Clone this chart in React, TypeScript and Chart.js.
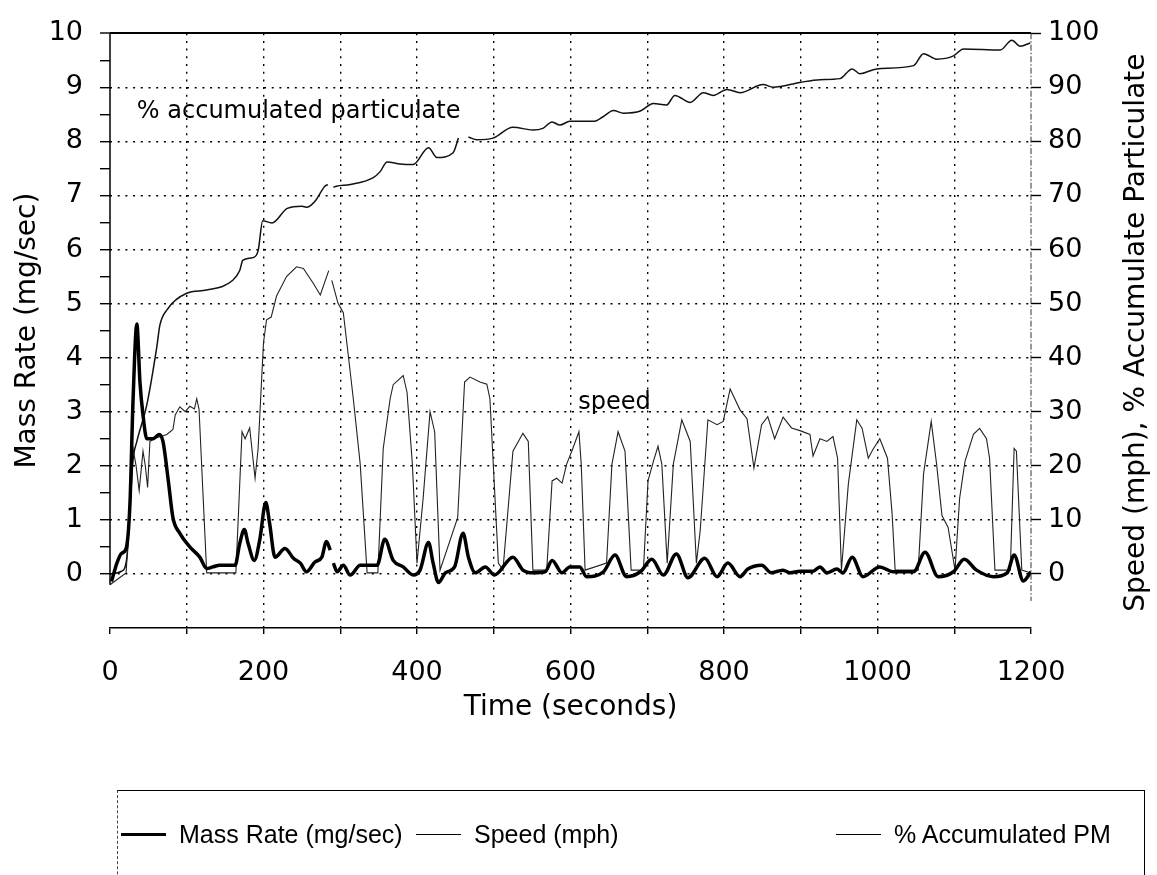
import React, { useEffect, useRef } from 'react';
import { Chart, registerables } from 'chart.js';

Chart.register(...registerables);

// ---- Data ----
const massTime = [2, 9, 15, 21, 26, 30, 35, 39, 43, 48, 56, 64, 69, 76, 82, 91, 104, 117, 126, 134, 143, 163, 169, 175, 180, 188, 195, 203, 208, 215, 228, 239, 248, 256, 267, 276, 282, 287, 289, 291, 296, 304, 313, 326, 348, 358, 369, 382, 395, 404, 415, 421, 428, 437, 449, 460, 467, 476, 489, 501, 525, 538, 551, 567, 576, 589, 599, 612, 621, 643, 658, 673, 691, 706, 721, 738, 753, 775, 791, 805, 821, 831, 849, 862, 870, 877, 886, 899, 916, 925, 934, 947, 955, 967, 981, 1003, 1020, 1047, 1062, 1079, 1099, 1113, 1129, 1151, 1169, 1178, 1190, 1200];
const massRate = [-0.14, 0.2, 0.38, 0.47, 1.3, 3.2, 4.62, 3.55, 2.94, 2.5, 2.5, 2.58, 2.45, 1.72, 1.04, 0.75, 0.5, 0.31, 0.1, 0.13, 0.16, 0.16, 0.56, 0.82, 0.56, 0.25, 0.62, 1.32, 0.93, 0.31, 0.47, 0.29, 0.2, 0.04, 0.22, 0.31, 0.6, 0.44, null, 0.2, 0.04, 0.16, -0.02, 0.16, 0.16, 0.64, 0.25, 0.13, -0.02, 0.07, 0.58, 0.2, -0.16, 0.02, 0.13, 0.75, 0.31, 0.02, 0.13, -0.02, 0.31, 0.07, 0.02, 0.04, 0.25, 0.02, 0.13, 0.13, -0.05, 0.04, 0.35, -0.05, 0.04, 0.27, -0.02, 0.37, -0.07, 0.29, -0.05, 0.2, -0.05, 0.09, 0.16, 0.02, 0.05, 0.07, 0.02, 0.05, 0.05, 0.13, 0.02, 0.09, 0.02, 0.31, -0.05, 0.13, 0.04, 0.04, 0.4, -0.05, 0.04, 0.27, 0.07, -0.05, 0.02, 0.35, -0.13, 0.04];

const speedTime = [0, 21, 26, 30, 34, 38, 43, 46, 49, 52, 57, 74, 82, 85, 91, 98, 104, 110, 113, 116, 121, 126, 164, 172, 176, 182, 189, 193, 200, 204, 210, 217, 230, 243, 252, 265, 274, 285, 287, 289, 297, 304, 310, 317, 326, 335, 349, 356, 365, 369, 382, 387, 394, 400, 408, 417, 423, 430, 453, 462, 469, 482, 491, 495, 506, 512, 525, 538, 545, 551, 569, 576, 582, 589, 595, 603, 611, 614, 619, 647, 654, 662, 671, 679, 695, 701, 708, 714, 719, 726, 734, 745, 756, 764, 769, 779, 791, 799, 808, 821, 830, 839, 849, 857, 866, 877, 888, 899, 912, 916, 925, 934, 942, 948, 953, 962, 973, 980, 988, 994, 1003, 1013, 1019, 1023, 1053, 1060, 1070, 1077, 1084, 1092, 1101, 1107, 1114, 1125, 1133, 1142, 1146, 1153, 1173, 1178, 1181, 1188, 1199];
const speedMph = [-2, 0.2, 12, 23.2, 20, 15.4, 22.7, 20, 16, 24.5, 25, 25.8, 26.7, 29.4, 30.9, 30, 31, 30.5, 32.4, 30.5, 15.3, 0.2, 0.2, 26.3, 25, 27, 17.7, 23.2, 42.8, 47, 47.5, 51.4, 55, 56.8, 56.5, 53.7, 51.6, 56.1, null, 54.3, 50.1, 48.3, 41, 32.4, 20.3, 0.2, 0.2, 23.2, 32.4, 35, 36.7, 33.6, 20.3, 2, 14, 30, 26.3, 0.7, 10.4, 35.5, 36.4, 35.5, 35.1, 32.4, 2, 0.7, 22.7, 26, 24.5, 0.7, 0.7, 17.2, 17.7, 16.8, 20.3, 23.2, 26.3, 20.3, 0.7, 2, 20.3, 26.3, 22.7, 0.7, 0.7, 17.2, 20.8, 23.6, 20.3, 2, 20.3, 28.5, 24.5, 2, 8, 28.5, 27.6, 28.2, 34.2, 30.3, 28.7, 19.6, 27.6, 29.1, 25, 29, 27, 26.5, 25.8, 21.8, 25, 24.5, 25.4, 21.4, 0.7, 16.6, 28.5, 26.9, 21.4, 23, 25, 21.4, 11.2, 0.7, 0.7, 18.5, 28.2, 20.3, 10.8, 8.6, 0.7, 14, 20.8, 25.8, 26.9, 25, 21.4, 0.7, 0.7, 23.2, 22.7, 0.7, 0.2];

const accumTime = [0, 15, 22, 26, 30, 35, 48, 61, 65, 74, 100, 126, 160, 169, 173, 186, 193, 199, 211, 231, 250, 257, 267, 280, 284, 287, 291, 295, 313, 343, 352, 361, 378, 395, 415, 426, 447, 454, 460, 467, 478, 499, 525, 551, 564, 576, 586, 599, 630, 642, 656, 669, 691, 708, 725, 736, 756, 773, 786, 804, 821, 851, 864, 899, 925, 951, 967, 977, 999, 1047, 1060, 1077, 1099, 1112, 1160, 1175, 1186, 1199];
const accumPct = [0, 0.5, 3, 12, 21, 24.5, 31.3, 42, 46, 48.8, 51.9, 52.5, 54.3, 56.1, 58, 58.5, 59.8, 65.3, 64.9, 67.6, 68, 67.8, 68.9, 71.7, 72, null, 71.5, 71.7, 72, 73.3, 74.4, 76.2, 75.8, 75.7, 78.8, 77, 77.9, 80.6, null, 80.8, 80.3, 80.6, 82.6, 82.1, 82.4, 83.6, 83, 83.7, 83.7, 84.5, 85.7, 85.2, 85.6, 87, 86.7, 88.5, 87.2, 89, 88.5, 89.6, 89, 90.5, 90, 90.9, 91.4, 91.6, 93.4, 92.5, 93.4, 94, 96.2, 95.2, 95.8, 97.1, 96.9, 98.7, 97.6, 98.2];

const seriesLabels = ['Mass Rate (mg/sec)', 'Speed (mph)', '% Accumulated PM'];
const axisTitles = ['Time (seconds)', 'Mass Rate (mg/sec)', 'Speed (mph), % Accumulate Particulate'];
const annotationTexts = ['% accumulated particulate', 'speed'];
const annotationTime = [35, 610];
const annotationMass = [8.54, 3.16];

const legendLeft = [120, 415, 835];
const legendLineWidth = [3, 1, 1.5];

const FONT = '"DejaVu Sans", "Liberation Sans", Arial, sans-serif';

const toPoints = (xs: number[], ys: (number | null)[]) => xs.map((x, i) => ({ x, y: ys[i] }));

const extrasPlugin = {
  id: 'extras',
  afterDatasetsDraw(chart: any) {
    const { ctx, chartArea, scales } = chart;
    const x = scales.x, y = scales.y, y1 = scales.y1;
    ctx.save();
    // left axis line
    ctx.strokeStyle = '#000';
    ctx.lineWidth = 1.5;
    ctx.beginPath();
    ctx.moveTo(chartArea.left, y.getPixelForValue(10));
    ctx.lineTo(chartArea.left, y.getPixelForValue(-0.2));
    ctx.stroke();
    // right axis dash-dot line
    ctx.strokeStyle = '#333';
    ctx.lineWidth = 1;
    ctx.setLineDash([6, 2, 1.5, 2]);
    ctx.beginPath();
    ctx.moveTo(chartArea.right, y1.getPixelForValue(100));
    ctx.lineTo(chartArea.right, y1.getPixelForValue(-5));
    ctx.stroke();
    ctx.setLineDash([]);
    // in-plot annotations
    ctx.fillStyle = '#000';
    ctx.font = '24px ' + FONT;
    ctx.textAlign = 'left';
    ctx.textBaseline = 'middle';
    annotationTexts.forEach((t, i) => {
      ctx.fillText(t, x.getPixelForValue(annotationTime[i]), y.getPixelForValue(annotationMass[i]));
    });
    // right axis title (reads bottom-to-top)
    ctx.font = '28px ' + FONT;
    ctx.textAlign = 'center';
    ctx.translate(1137, (chartArea.top + chartArea.bottom) / 2 + 2);
    ctx.rotate(-Math.PI / 2);
    ctx.fillText(axisTitles[2], 0, 0);
    ctx.restore();
  },
};

export default function App() {
  const canvasRef = useRef<HTMLCanvasElement | null>(null);

  useEffect(() => {
    if (!canvasRef.current) return;
    const dotted = [2, 5.7];
    const chart = new Chart(canvasRef.current, {
      type: 'line',
      data: {
        datasets: [
          {
            label: seriesLabels[0],
            data: toPoints(massTime, massRate),
            yAxisID: 'y',
            borderColor: '#000',
            borderWidth: 3.5,
            pointRadius: 0,
            cubicInterpolationMode: 'monotone',
            fill: false,
          },
          {
            label: seriesLabels[1],
            data: toPoints(speedTime, speedMph),
            yAxisID: 'y1',
            borderColor: '#222',
            borderWidth: 1.1,
            pointRadius: 0,
            tension: 0,
            fill: false,
          },
          {
            label: seriesLabels[2],
            data: toPoints(accumTime, accumPct),
            yAxisID: 'y1',
            borderColor: '#111',
            borderWidth: 1.5,
            pointRadius: 0,
            cubicInterpolationMode: 'monotone',
            fill: false,
          },
        ],
      },
      options: {
        responsive: false,
        animation: false,
        devicePixelRatio: 1,
        layout: { padding: { top: 27, left: 0, right: 0, bottom: 0 } },
        plugins: { legend: { display: false }, tooltip: { enabled: false } },
        scales: {
          x: {
            type: 'linear',
            min: 0,
            max: 1200,
            afterFit: (s: any) => { s.height = 247; },
            ticks: {
              stepSize: 100,
              autoSkip: false,
              maxRotation: 0,
              padding: 23,
              color: '#000',
              font: { family: FONT, size: 27 },
              callback: (v: any) => (Number(v) % 200 === 0 ? String(v) : ''),
            },
            grid: {
              color: (c: any) => (c.tick && (c.tick.value === 0 || c.tick.value === 1200) ? 'rgba(0,0,0,0)' : '#000'),
              lineWidth: 1.4,
              tickLength: 6,
              tickColor: '#000',
              tickWidth: 1.4,
            },
            border: { display: true, color: '#000', width: 1.5, dash: dotted },
            title: {
              display: true,
              text: axisTitles[0],
              color: '#000',
              font: { family: FONT, size: 28 },
              padding: { top: 0, bottom: 150 },
            },
          },
          y: {
            type: 'linear',
            position: 'left',
            min: -1,
            max: 10,
            afterFit: (s: any) => { s.width = 110; },
            ticks: {
              stepSize: 0.5,
              autoSkip: false,
              padding: 17,
              color: '#000',
              font: { family: FONT, size: 27 },
              callback: (v: any) => (Number.isInteger(Number(v)) && Number(v) >= 0 ? String(v) : ''),
            },
            grid: {
              color: (c: any) => {
                const v = c.tick ? c.tick.value : -1;
                return Number.isInteger(v) && v >= 0 ? '#000' : 'rgba(0,0,0,0)';
              },
              lineWidth: (c: any) => (c.tick && c.tick.value === 10 ? 2 : 1.4),
              tickLength: 10,
              tickColor: (c: any) => (c.tick && c.tick.value >= 0 ? '#000' : 'rgba(0,0,0,0)'),
              tickWidth: 1.4,
            },
            border: {
              display: false,
              dash: (c: any) => (c.tick && c.tick.value === 10 ? [] : dotted),
            },
            title: {
              display: true,
              text: axisTitles[1],
              color: '#000',
              font: { family: FONT, size: 28 },
              padding: { top: 11, bottom: 0 },
            },
          },
          y1: {
            type: 'linear',
            position: 'right',
            min: -10,
            max: 100,
            afterFit: (s: any) => { s.width = 126; },
            ticks: {
              stepSize: 10,
              autoSkip: false,
              padding: 7,
              color: '#000',
              font: { family: FONT, size: 27 },
              callback: (v: any) => (Number(v) >= 0 ? String(v) : ''),
            },
            grid: {
              drawOnChartArea: false,
              tickLength: 10,
              tickColor: (c: any) => (c.tick && c.tick.value >= 0 ? '#000' : 'rgba(0,0,0,0)'),
              tickWidth: 1.4,
            },
            border: { display: false },
          },
        },
      },
      plugins: [extrasPlugin],
    } as any);
    return () => chart.destroy();
  }, []);

  return (
    <div style={{ position: 'absolute', left: 0, top: 0, width: 1157, height: 875, overflow: 'hidden', background: '#fff' }}>
      <canvas ref={canvasRef} width={1157} height={875} style={{ display: 'block' }} />
      <div
        style={{
          position: 'absolute',
          left: 117,
          top: 790,
          width: 1028,
          height: 120,
          boxSizing: 'border-box',
          borderTop: '1.5px solid #000',
          borderRight: '1.5px solid #000',
          borderLeft: '1px dashed #444',
          fontFamily: '"Liberation Sans", Arial, sans-serif',
          fontSize: 25,
          color: '#000',
        }}
      >
        {seriesLabels.map((label, i) => (
          <div
            key={label}
            style={{
              position: 'absolute',
              left: legendLeft[i] - 117,
              top: 28,
              height: 30,
              lineHeight: '30px',
              display: 'flex',
              alignItems: 'center',
              whiteSpace: 'nowrap',
            }}
          >
            <span style={{ display: 'inline-block', width: 45, height: 0, borderTop: `${legendLineWidth[i]}px solid #000`, marginRight: 13 }} />
            <span>{label}</span>
          </div>
        ))}
      </div>
    </div>
  );
}
